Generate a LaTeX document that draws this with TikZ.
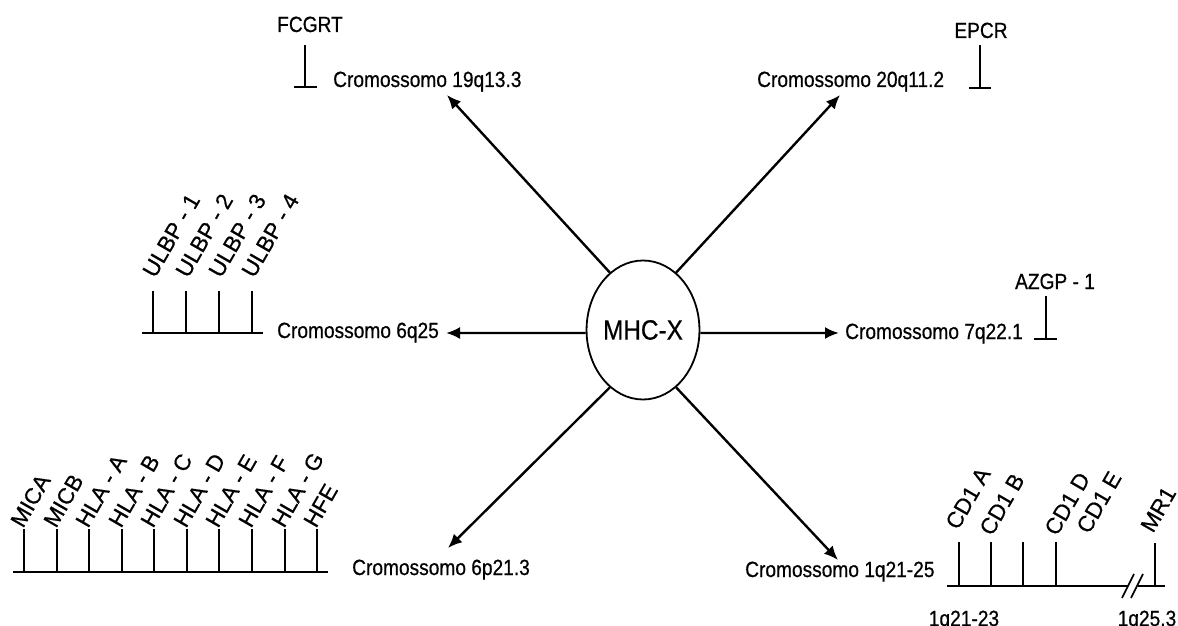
\documentclass[tikz,border=0pt]{standalone}
\usepackage{fontspec}
\setmainfont[FakeStretch=0.87,FakeBold=0.6]{Liberation Sans}
\newfontfamily\rotfont[FakeBold=0.6]{Liberation Sans}
\usetikzlibrary{arrows.meta,shapes.geometric}
\begin{document}
\begin{tikzpicture}[x=1pt,y=-1pt,
  lbl/.style={inner sep=0pt, font=\fontsize{22}{26}\selectfont, anchor=base west},
  rlbl/.style={inner sep=0pt, font=\rotfont\fontsize{22.5}{26}\selectfont, anchor=base west, rotate=60},
  arr/.style={line width=2.4pt, -{Latex[length=14pt,width=12pt]}},
  gene/.style={line width=1.6pt},
  chrom/.style={line width=2pt}]
\useasboundingbox (0,0) rectangle (1178,626);

% centre
\node[draw, ellipse, line width=1.8pt, minimum width=110pt, minimum height=139pt, inner sep=0pt,
      font=\fontsize{28}{32}\selectfont] (mhc) at (643,330) {MHC-X};

% arrow tips
\coordinate (tUL) at (447,95);
\coordinate (tUR) at (840,95);
\coordinate (tL)  at (446,333);
\coordinate (tR)  at (839,333);
\coordinate (tLL) at (448,548);
\coordinate (tLR) at (838,560);

\draw[arr] (mhc.120) -- (tUL);
\draw[arr] (mhc.60)  -- (tUR);
\draw[arr] (mhc.183) -- (tL);
\draw[arr] (mhc.-3)  -- (tR);
\draw[arr] (mhc.240) -- (tLL);
\draw[arr] (mhc.300) -- (tLR);

% chromosome labels
\node[lbl] (c19) at (333,87)  {Cromossomo 19q13.3};
\node[lbl] (c20) at (757,87)  {Cromossomo 20q11.2};
\node[lbl] (c6q) at (277,338) {Cromossomo 6q25};
\node[lbl] (c7)  at (845,339) {Cromossomo 7q22.1};
\node[lbl] (c6p) at (352,575) {Cromossomo 6p21.3};
\node[lbl] (c1)  at (745,577) {Cromossomo 1q21-25};

% single genes
\node[lbl, anchor=base] (fcgrt) at (310,32) {FCGRT};
\draw[gene] (305,45) -- (305,87);
\draw[gene] (294,87) -- (317,87);

\node[lbl, anchor=base] (epcr) at (981,38) {EPCR};
\draw[gene] (980,45) -- (980,88);
\draw[gene] (969,88) -- (991,88);

\node[lbl, anchor=base] (azgp) at (1055,289) {AZGP - 1};
\draw[gene] (1046,296) -- (1046,339);
\draw[gene] (1034,339) -- (1057,339);

% ULBP cluster
\draw[chrom] (142,333) -- (263,333);
\foreach \x/\t in {153/ULBP - 1,186/ULBP - 2,219/ULBP - 3,252/ULBP - 4}{
  \draw[gene] (\x,291) -- (\x,333);
  \node[rlbl] at (\x+2,279) {\t};
}

% MHC class I cluster
\draw[chrom] (13,572) -- (328,572);
\foreach \x/\t in {24/MICA,57/MICB,89/HLA - A,122/HLA - B,154/HLA - C,187/HLA - D,219/HLA - E,252/HLA - F,285/HLA - G,317/HFE}{
  \draw[gene] (\x,529) -- (\x,572);
  \node[rlbl] at (\x-1,529) {\t};
}

% CD1 cluster
\draw[chrom] (947,586) -- (1128,586);
\draw[chrom] (1138,586) -- (1165,586);
\draw[gene] (1122,598) -- (1134,574);
\draw[gene] (1131,598) -- (1143,574);
\foreach \x in {959,991,1023,1056}{
  \draw[gene] (\x,542) -- (\x,586);
}
\draw[gene] (1155,543) -- (1155,586);
\node[rlbl] at (958,531)  {CD1 A};
\node[rlbl] at (992,537)  {CD1 B};
\node[rlbl] at (1057,537) {CD1 D};
\node[rlbl] at (1089,535) {CD1 E};
\node[rlbl] at (1153,534) {MR1};

\node[lbl, anchor=base] (b1) at (964,626)  {1q21-23};
\node[lbl, anchor=base] (b2) at (1147,626) {1q25.3};
\end{tikzpicture}
\end{document}
